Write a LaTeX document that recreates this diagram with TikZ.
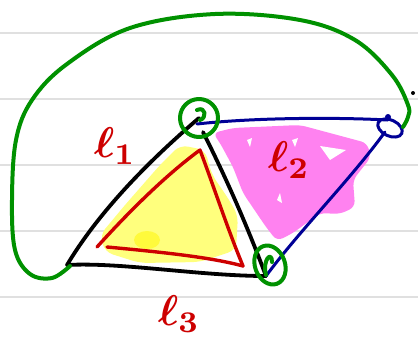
\documentclass[tikz,border=0pt]{standalone}
\usepackage{graphicx}
\definecolor{penred}{RGB}{205,0,0}
\definecolor{pengreen}{RGB}{0,145,0}
\definecolor{penblue}{RGB}{0,0,150}
\definecolor{hlyellow}{RGB}{255,255,125}
\definecolor{hlyellowb}{RGB}{255,250,60}
\definecolor{hlpink}{RGB}{255,130,240}
\newcommand{\bigell}[1]{\scalebox{4.3}{\boldmath$\ell_{#1}$}}
\begin{document}
\begin{tikzpicture}[x=1pt,y=-1pt,line cap=round,line join=round,
  rule/.style={draw=black!12,line width=2pt},
  blackpen/.style={line width=3.8pt,draw=black},
  redpen/.style={line width=3.4pt,draw=penred},
  bluepen/.style={line width=3pt,draw=penblue},
  greenpen/.style={line width=4pt,draw=pengreen},
  lbl/.style={text=penred,inner sep=0pt}]
\useasboundingbox (0,0) rectangle (418,341);
\fill[white] (0,0) rectangle (418,341);
% ruled lines
\foreach \yy in {33,99,165,231,297} \draw[rule] (0,\yy) -- (418,\yy);
% vertices
\coordinate (A) at (199,118);
\coordinate (B) at (67,265);
\coordinate (C) at (266,276);
\coordinate (D) at (388,120);
% yellow fill
\fill[hlyellow,rounded corners=8pt] (180,145) -- (205,150) -- (212,175) -- (226,195) -- (238,215) -- (236,250) -- (200,262) -- (140,263) -- (105,252) -- (100,235) -- (125,205) -- (160,165) -- cycle;
\fill[hlyellowb] (147,240) ellipse (13 and 9);
% magenta fill
\fill[hlpink,rounded corners=6pt] (213,133) -- (233,128) -- (300,125) -- (367,143) -- (371,157) -- (353,180) -- (355,207) -- (340,214) -- (320,213) -- (293,233) -- (277,241) -- (266,227) -- (243,193) -- (233,167) -- (220,143) -- cycle;
\fill[white] (320,146) -- (346,150) -- (330,160) -- cycle;
\fill[white] (247,140) -- (252,138) -- (250,147) -- cycle;
\fill[white] (277,200) -- (280,193) -- (282,203) -- cycle;
\fill[white] (292,140) -- (298,138) -- (295,147) -- cycle;
% black triangle
\draw[blackpen] (B) .. controls (100,210) and (150,160) .. (A);
\draw[blackpen] (203,132) .. controls (222,170) and (243,215) .. (C);
\draw[blackpen] (B) .. controls (120,262) and (200,276) .. (C);
% red inner triangle
\draw[redpen] (97,247) .. controls (135,205) and (170,172) .. (200,150) .. controls (215,190) and (228,230) .. (243,266);
\draw[redpen] (107,247) .. controls (160,252) and (210,257) .. (243,266);
% blue quadrilateral
\draw[bluepen] (197,124) .. controls (250,118) and (330,117) .. (D);
\draw[bluepen] (385,132) .. controls (350,180) and (300,230) .. (C);
\draw[bluepen,rotate around={-25:(390,128)}] (390,128) ellipse (13 and 8);
\fill[penblue] (388,117) circle (3);
% green circles
\draw[greenpen] (A) ellipse (19 and 19);
\draw[greenpen] (197,110) .. controls (206,106) and (207,118) .. (200,120);
\draw[greenpen,rotate around={20:(270,265)}] (270,265) ellipse (15 and 20);
\draw[greenpen] (266,275) .. controls (262,260) and (272,250) .. (272,262);
% green curve
\draw[greenpen] plot[smooth,tension=0.6] coordinates {(70,266) (52,278) (30,274) (15,250) (12,200) (16,140) (32,100) (67,64) (130,28) (215,14) (300,20) (355,40) (392,75) (408,105) (408,117) (403,127)};
\fill[black] (413,93) circle (2);
% labels
\node[lbl] (l1) at (115,146) {\bigell{1}};
\node[lbl] (l2) at (289,160) {\bigell{2}};
\node[lbl] (l3) at (179,314) {\bigell{3}};
\end{tikzpicture}
\end{document}
